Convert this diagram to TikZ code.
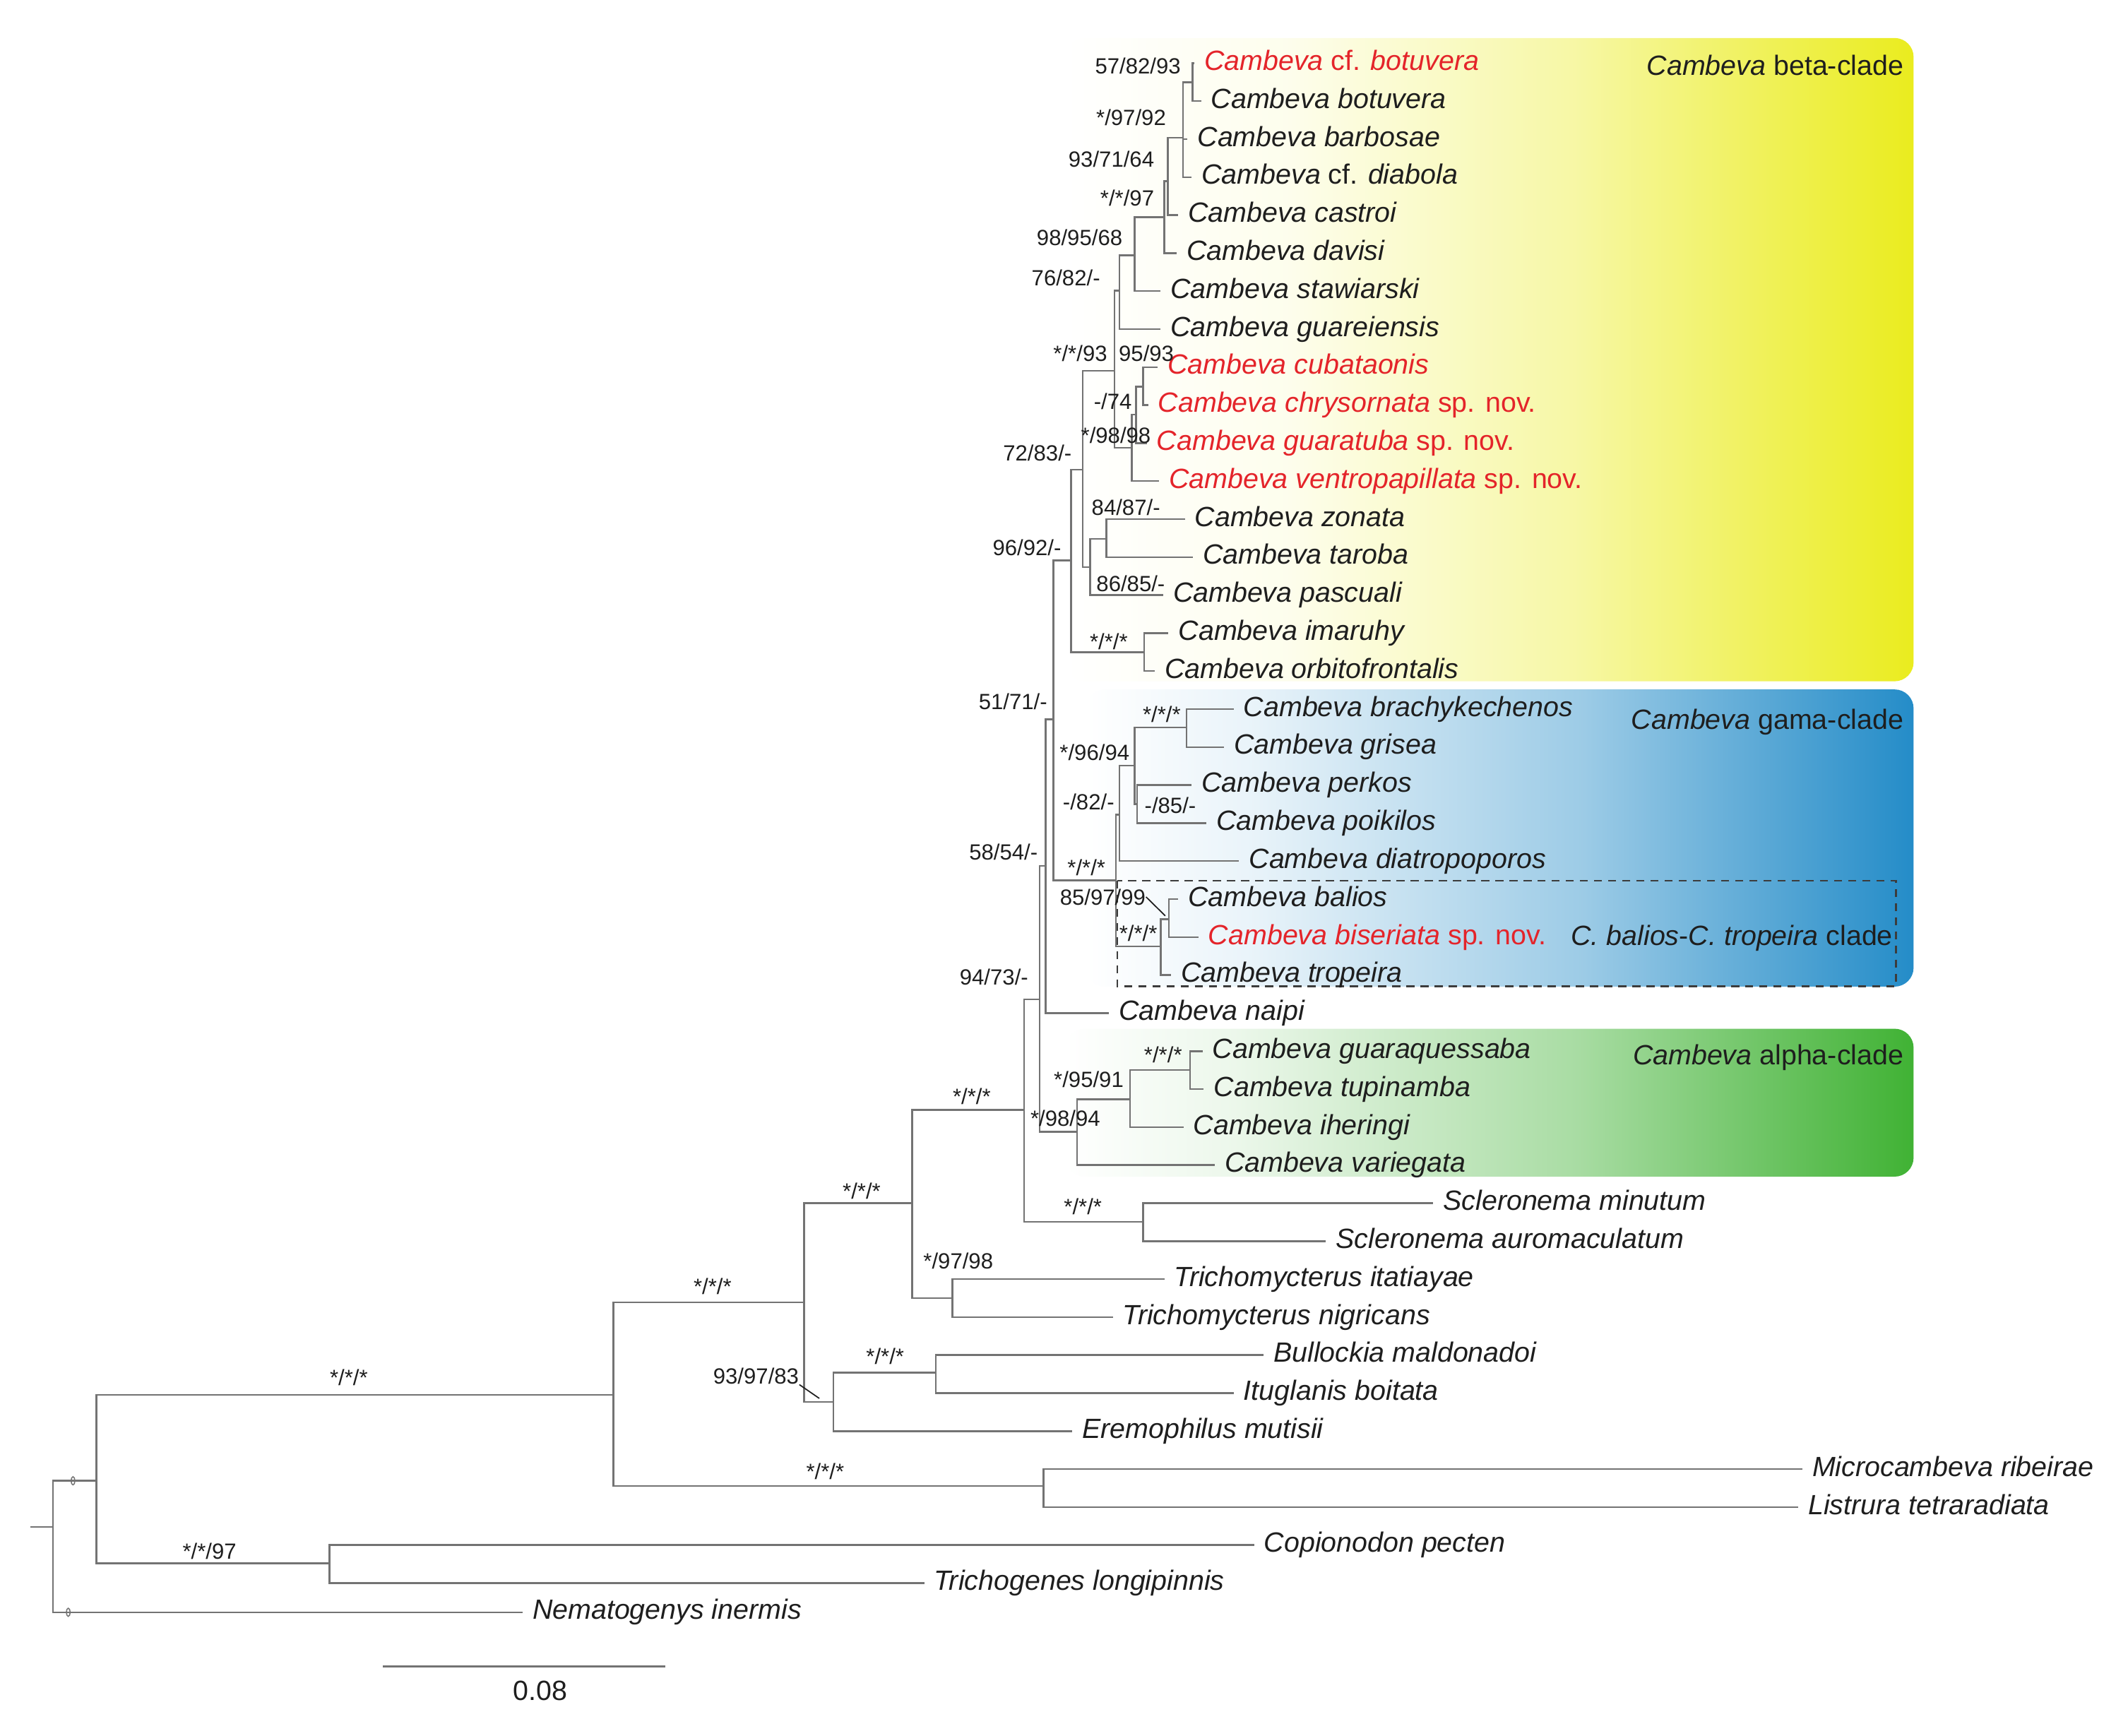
\documentclass[tikz,border=0pt]{standalone}
\usepackage{fontspec}
\setmainfont{Liberation Sans}
\definecolor{lg}{RGB}{115,115,115}
\definecolor{tx}{RGB}{30,30,30}
\definecolor{rd}{RGB}{228,36,42}
\definecolor{dg}{RGB}{60,60,60}
\definecolor{yelB}{RGB}{234,236,30}
\definecolor{bluB}{RGB}{36,140,200}
\definecolor{grnB}{RGB}{64,178,52}
\colorlet{yelA}{yelB!8!white}
\colorlet{yelM}{yelB!40!white}
\colorlet{bluA}{bluB!10!white}
\colorlet{bluM}{bluB!45!white}
\colorlet{grnA}{grnB!10!white}
\colorlet{grnM}{grnB!45!white}
\pgfdeclarehorizontalshading{betash}{100bp}{color(0bp)=(white); color(25bp)=(white); color(38bp)=(yelA); color(55bp)=(yelM); color(75bp)=(yelB); color(100bp)=(yelB)}
\pgfdeclarehorizontalshading{gamash}{100bp}{color(0bp)=(white); color(25bp)=(white); color(35bp)=(bluA); color(55bp)=(bluM); color(75bp)=(bluB); color(100bp)=(bluB)}
\pgfdeclarehorizontalshading{alphsh}{100bp}{color(0bp)=(white); color(25bp)=(white); color(35bp)=(grnA); color(55bp)=(grnM); color(75bp)=(grnB); color(100bp)=(grnB)}
\newcommand{\taxf}{\fontsize{10.25}{12}\selectfont}
\newcommand{\supf}{\fontsize{8.1}{9.7}\selectfont}
\newcommand{\cbv}[1]{\textit{Cambeva #1}}
\begin{document}
\begin{tikzpicture}[x=0.5pt,y=-0.5pt,
  br/.style={draw=lg,line width=0.65pt},
  tax/.style={font=\taxf,anchor=mid west,inner xsep=3.5pt,inner ysep=0pt,text=tx},
  rtax/.style={tax,text=rd},
  sup/.style={font=\supf,inner sep=0pt,text=tx},
  clab/.style={font=\taxf,inner sep=0pt,text=tx,anchor=base east}]
\useasboundingbox (0,0) rectangle (1568,1279);
% clade backgrounds
\shade[shading=betash,rounded corners=7pt] (785,28) rectangle (1410,502);
\shade[shading=gamash,rounded corners=7pt] (800,508) rectangle (1410,727);
\shade[shading=alphsh,rounded corners=7pt] (785,758) rectangle (1410,867);
\draw[draw=dg,line width=0.6pt,dash pattern=on 3pt off 2.2pt] (823.1,648.8) rectangle (1397,726.8);
% taxa
\node[rtax] (t1) at (880,46.5) {\textit{Cambeva} cf. \textit{botuvera}};
\node[tax] (t2) at (885,74.5) {\cbv{botuvera}};
\node[tax] (t3) at (875,102.5) {\cbv{barbosae}};
\node[tax] (t4) at (878,130.5) {\textit{Cambeva} cf. \textit{diabola}};
\node[tax] (t5) at (868,158.5) {\cbv{castroi}};
\node[tax] (t6) at (867,186.5) {\cbv{davisi}};
\node[tax] (t7) at (855,214.5) {\cbv{stawiarski}};
\node[tax] (t8) at (855,242.5) {\cbv{guareiensis}};
\node[rtax] (t9) at (853,270.5) {\cbv{cubataonis}};
\node[rtax] (t10) at (846,298.5) {\cbv{chrysornata} sp. nov.};
\node[rtax] (t11) at (845,326.5) {\cbv{guaratuba} sp. nov.};
\node[rtax] (t12) at (854,354.5) {\cbv{ventropapillata} sp. nov.};
\node[tax] (t13) at (873,382.5) {\cbv{zonata}};
\node[tax] (t14) at (879,410.5) {\cbv{taroba}};
\node[tax] (t15) at (857,438.5) {\cbv{pascuali}};
\node[tax] (t16) at (861,466.5) {\cbv{imaruhy}};
\node[tax] (t17) at (851,494.5) {\cbv{orbitofrontalis}};
\node[tax] (t18) at (909,522.5) {\cbv{brachykechenos}};
\node[tax] (t19) at (902,550.5) {\cbv{grisea}};
\node[tax] (t20) at (878,578.5) {\cbv{perkos}};
\node[tax] (t21) at (889,606.5) {\cbv{poikilos}};
\node[tax] (t22) at (913,634.5) {\cbv{diatropoporos}};
\node[tax] (t23) at (868,662.5) {\cbv{balios}};
\node[rtax] (t24) at (883,690.5) {\cbv{biseriata} sp. nov.};
\node[tax] (t25) at (863,718.5) {\cbv{tropeira}};
\node[tax] (t26) at (817,746.5) {\cbv{naipi}};
\node[tax] (t27) at (886,774.5) {\cbv{guaraquessaba}};
\node[tax] (t28) at (887,802.5) {\cbv{tupinamba}};
\node[tax] (t29) at (872,830.5) {\cbv{iheringi}};
\node[tax] (t30) at (895,858.5) {\cbv{variegata}};
\node[tax] (t31) at (1056,886.5) {\textit{Scleronema minutum}};
\node[tax] (t32) at (977,914.5) {\textit{Scleronema auromaculatum}};
\node[tax] (t33) at (858,942.5) {\textit{Trichomycterus itatiayae}};
\node[tax] (t34) at (820,970.5) {\textit{Trichomycterus nigricans}};
\node[tax] (t35) at (931,998.5) {\textit{Bullockia maldonadoi}};
\node[tax] (t36) at (909,1026.5) {\textit{Ituglanis boitata}};
\node[tax] (t37) at (790,1054.5) {\textit{Eremophilus mutisii}};
\node[tax] (t38) at (1328,1082.5) {\textit{Microcambeva ribeirae}};
\node[tax] (t39) at (1325,1110.5) {\textit{Listrura tetraradiata}};
\node[tax] (t40) at (924,1138.5) {\textit{Copionodon pecten}};
\node[tax] (t41) at (681,1166.5) {\textit{Trichogenes longipinnis}};
\node[tax] (t42) at (385,1188) {\textit{Nematogenys inermis}};
% internal nodes
\coordinate (A) at (878.6,60.5);
\coordinate (B) at (871.7,101.5);
\coordinate (C) at (860.4,133.6);
\coordinate (D) at (857.8,160);
\coordinate (E) at (836.1,188.2);
\coordinate (F) at (824.8,214.2);
\coordinate (G) at (821.3,273.2);
\coordinate (I) at (842.2,285);
\coordinate (K) at (837,305.5);
\coordinate (J) at (834,330);
\coordinate (N) at (815.3,397.2);
\coordinate (M) at (803.2,418);
\coordinate (L) at (797.9,346);
\coordinate (P) at (843,480.5);
\coordinate (O) at (789.3,413);
\coordinate (AB) at (874.3,536);
\coordinate (AC) at (837.8,592.4);
\coordinate (AA) at (836.1,564);
\coordinate (Y) at (824.8,600.2);
\coordinate (AD) at (861.3,677.4);
\coordinate (Z) at (855.2,697.3);
\coordinate (R) at (822.2,648.8);
\coordinate (Q) at (776.3,530);
\coordinate (S) at (770.5,638);
\coordinate (X) at (876.9,788.4);
\coordinate (W) at (832.6,810);
\coordinate (U) at (793.6,834);
\coordinate (T) at (766,736.4);
\coordinate (SC) at (842.2,900.3);
\coordinate (V) at (754.6,817.9);
\coordinate (AF) at (701.7,956.6);
\coordinate (AE) at (672.2,886.4);
\coordinate (AI) at (689.5,1011.3);
\coordinate (AH) at (614.1,1033);
\coordinate (AG) at (592.4,959.7);
\coordinate (AM) at (769,1095);
\coordinate (AK) at (452,1027.8);
\coordinate (AL) at (242.8,1151.8);
\coordinate (AJ) at (71.1,1091.1);
\coordinate (RT) at (39,1125);
\coordinate (R0) at (22.6,1125);
% branches
\draw[br] (A) |- (t1.mid west);
\draw[br] (A) |- (t2.mid west);
\draw[br] (B) |- (A);
\draw[br] (B) |- (t3.mid west);
\draw[br] (B) |- (t4.mid west);
\draw[br] (C) |- (B);
\draw[br] (C) |- (t5.mid west);
\draw[br] (D) |- (C);
\draw[br] (D) |- (t6.mid west);
\draw[br] (E) |- (D);
\draw[br] (E) |- (t7.mid west);
\draw[br] (F) |- (E);
\draw[br] (F) |- (t8.mid west);
\draw[br] (G) |- (F);
\draw[br] (G) |- (J);
\draw[br] (I) |- (t9.mid west);
\draw[br] (I) |- (t10.mid west);
\draw[br] (K) |- (I);
\draw[br] (K) |- (t11.mid west);
\draw[br] (J) |- (K);
\draw[br] (J) |- (t12.mid west);
\draw[br] (N) |- (t13.mid west);
\draw[br] (N) |- (t14.mid west);
\draw[br] (M) |- (N);
\draw[br] (M) |- (t15.mid west);
\draw[br] (L) |- (G);
\draw[br] (L) |- (M);
\draw[br] (P) |- (t16.mid west);
\draw[br] (P) |- (t17.mid west);
\draw[br] (O) |- (L);
\draw[br] (O) |- (P);
\draw[br] (AB) |- (t18.mid west);
\draw[br] (AB) |- (t19.mid west);
\draw[br] (AC) |- (t20.mid west);
\draw[br] (AC) |- (t21.mid west);
\draw[br] (AA) |- (AB);
\draw[br] (AA) |- (AC);
\draw[br] (Y) |- (AA);
\draw[br] (Y) |- (t22.mid west);
\draw[br] (AD) |- (t23.mid west);
\draw[br] (AD) |- (t24.mid west);
\draw[br] (Z) |- (AD);
\draw[br] (Z) |- (t25.mid west);
\draw[br] (R) |- (Y);
\draw[br] (R) |- (Z);
\draw[br] (Q) |- (O);
\draw[br] (Q) |- (R);
\draw[br] (S) |- (Q);
\draw[br] (S) |- (t26.mid west);
\draw[br] (X) |- (t27.mid west);
\draw[br] (X) |- (t28.mid west);
\draw[br] (W) |- (X);
\draw[br] (W) |- (t29.mid west);
\draw[br] (U) |- (W);
\draw[br] (U) |- (t30.mid west);
\draw[br] (T) |- (S);
\draw[br] (T) |- (U);
\draw[br] (SC) |- (t31.mid west);
\draw[br] (SC) |- (t32.mid west);
\draw[br] (V) |- (T);
\draw[br] (V) |- (SC);
\draw[br] (AF) |- (t33.mid west);
\draw[br] (AF) |- (t34.mid west);
\draw[br] (AE) |- (V);
\draw[br] (AE) |- (AF);
\draw[br] (AI) |- (t35.mid west);
\draw[br] (AI) |- (t36.mid west);
\draw[br] (AH) |- (AI);
\draw[br] (AH) |- (t37.mid west);
\draw[br] (AG) |- (AE);
\draw[br] (AG) |- (AH);
\draw[br] (AM) |- (t38.mid west);
\draw[br] (AM) |- (t39.mid west);
\draw[br] (AK) |- (AG);
\draw[br] (AK) |- (AM);
\draw[br] (AL) |- (t40.mid west);
\draw[br] (AL) |- (t41.mid west);
\draw[br] (AJ) |- (AK);
\draw[br] (AJ) |- (AL);
\draw[br] (RT) |- (AJ);
\draw[br] (RT) |- (t42.mid west);
\draw[br] (R0) -- (RT);
% tiny marks near root
\draw[draw=lg,line width=0.4pt] (53.8,1091.1) ellipse [x radius=1.4, y radius=3];
\draw[draw=lg,line width=0.4pt] (50.3,1188) ellipse [x radius=1.4, y radius=3];
% support values
\node[sup,anchor=east] (s1) at (870.4,48.6) {57/82/93};
\node[sup,anchor=east] (s2) at (859.5,86.7) {*/97/92};
\node[sup,anchor=east] (s3) at (850.8,117.1) {93/71/64};
\node[sup,anchor=east] (s4) at (850.8,145.7) {*/*/97};
\node[sup,anchor=east] (s5) at (827.4,175.2) {98/95/68};
\node[sup,anchor=east] (s6) at (811,204.7) {76/82/-};
\node[sup,anchor=east] (s7) at (816.2,260.2) {*/*/93};
\node[sup,anchor=west] (s8) at (824,260.2) {95/93};
\node[sup,anchor=east] (s9) at (834.3,295.6) {-/74};
\node[sup,anchor=east] (s10) at (848.3,321) {*/98/98};
\node[sup,anchor=east] (s11) at (790,333.9) {72/83/-};
\node[sup,anchor=west] (s12) at (804,373.8) {84/87/-};
\node[sup,anchor=east] (s13) at (782.3,403.3) {96/92/-};
\node[sup,anchor=west] (s14) at (807.5,430.2) {86/85/-};
\node[sup] (s15) at (817,472.5) {*/*/*};
\node[sup,anchor=east] (s16) at (772,517) {51/71/-};
\node[sup] (s17) at (856,526.5) {*/*/*};
\node[sup,anchor=east] (s18) at (832.6,554.2) {*/96/94};
\node[sup,anchor=east] (s19) at (821.4,590.7) {-/82/-};
\node[sup,anchor=west] (s20) at (843,593.3) {-/85/-};
\node[sup,anchor=east] (s21) at (765,628) {58/54/-};
\node[sup] (s22) at (800.5,639.2) {*/*/*};
\node[sup,anchor=west] (s23) at (780.6,660.9) {85/97/99};
\node[sup] (s24) at (838.7,687.8) {*/*/*};
\node[sup,anchor=east] (s25) at (758,720) {94/73/-};
\node[sup] (s26) at (857,777.1) {*/*/*};
\node[sup,anchor=east] (s27) at (828.3,795.3) {*/95/91};
\node[sup] (s28) at (716,808) {*/*/*};
\node[sup,anchor=west] (s29) at (758.9,824) {*/98/94};
\node[sup] (s30) at (634.9,877.7) {*/*/*};
\node[sup] (s31) at (797.9,889) {*/*/*};
\node[sup,anchor=west] (s32) at (680,928.9) {*/97/98};
\node[sup] (s33) at (525,948) {*/*/*};
\node[sup] (s34) at (652.2,999.2) {*/*/*};
\node[sup,anchor=east] (s35) at (589,1013.9) {93/97/83};
\node[sup] (s36) at (257,1015) {*/*/*};
\node[sup] (s37) at (608,1084.2) {*/*/*};
\node[sup] (s38) at (154.4,1143.1) {*/*/97};
% leader lines
\coordinate (ld1) at (858.6,674.8);
\coordinate (ld2) at (603.7,1030.4);
\draw[draw=tx,line width=0.45pt] (s23.east) -- (ld1);
\draw[draw=tx,line width=0.45pt] (s35.south east) -- (ld2);
% clade labels
\node[clab] (c1) at (1403,55.4) {\textit{Cambeva} beta-clade};
\node[clab] (c2) at (1403,537.4) {\textit{Cambeva} gama-clade};
\node[clab] (c3) at (1403,784.4) {\textit{Cambeva} alpha-clade};
\node[clab] (c4) at (1395,696.4) {\textit{C. balios}-\textit{C. tropeira} clade};
% scale bar
\coordinate (sb1) at (282,1228);
\coordinate (sb2) at (490,1228);
\draw[br] (sb1) -- (sb2);
\node[font=\taxf,text=tx,inner sep=0pt] (sbl) at (398,1246) {0.08};
\end{tikzpicture}
\end{document}
